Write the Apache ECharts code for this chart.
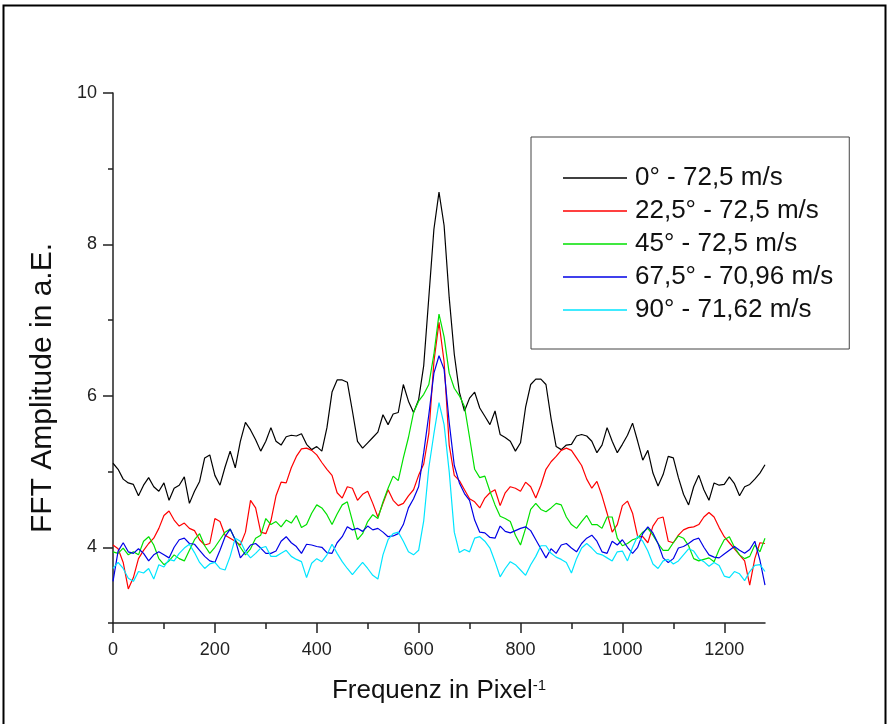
<!DOCTYPE html>
<html>
<head>
<meta charset="utf-8">
<script src="https://cdn.jsdelivr.net/npm/echarts@6/dist/echarts.min.js"></script>
<style>
html,body{margin:0;padding:0;background:#fff;}
#chart{width:889px;height:724px;}
</style>
</head>
<body>
<div id="chart"></div>
<script>
// x positions (Pixel^-1)
const xs = [0,10,20,30,40,50,60,70,80,90,100,110,120,130,140,150,160,170,180,190,
200,210,220,230,240,250,260,270,280,290,300,310,320,330,340,350,360,370,380,390,
400,410,420,430,440,450,460,470,480,490,500,510,520,530,540,550,560,570,580,590,
600,610,620,630,640,650,660,670,680,690,700,710,720,730,740,750,760,770,780,790,
800,810,820,830,840,850,860,870,880,890,900,910,920,930,940,950,960,970,980,990,
1000,1010,1020,1030,1040,1050,1060,1070,1080,1090,1100,1110,1120,1130,1140,1150,1160,1170,1180,1190,
1200,1210,1220,1230,1240,1250,1260,1270,1280];

const seriesNames = ['0° - 72,5 m/s','22,5° - 72,5 m/s','45° - 72,5 m/s','67,5° - 70,96 m/s','90° - 71,62 m/s'];
const seriesColors = ['#000000','#ff0000','#00e000','#0000e6','#00e5ff'];

const s0 = [5.11,5.03,4.90,4.85,4.83,4.68,4.82,4.92,4.80,4.74,
4.85,4.62,4.78,4.82,4.93,4.58,4.74,4.87,5.18,5.22,
4.95,4.82,5.06,5.27,5.05,5.40,5.65,5.55,5.42,5.27,
5.40,5.58,5.40,5.35,5.46,5.48,5.47,5.50,5.36,5.29,
5.33,5.27,5.58,6.05,6.21,6.21,6.18,5.80,5.40,5.31,
5.38,5.45,5.52,5.75,5.62,5.76,5.78,6.15,5.93,5.78,
5.95,6.40,7.30,8.20,8.69,8.25,7.30,6.55,6.05,5.80,
5.97,6.05,5.84,5.73,5.62,5.80,5.49,5.45,5.40,5.27,
5.38,5.85,6.15,6.22,6.22,6.15,5.70,5.33,5.29,5.35,
5.36,5.47,5.49,5.47,5.40,5.25,5.35,5.58,5.40,5.25,
5.36,5.48,5.64,5.40,5.15,5.28,4.98,4.81,4.96,5.20,
5.18,4.92,4.70,4.56,4.80,4.95,4.76,4.62,4.85,4.82,
4.83,4.93,4.84,4.68,4.80,4.83,4.90,4.98,5.09];

const s1 = [4.03,3.98,3.80,3.45,3.60,3.85,3.96,4.05,4.12,4.25,
4.42,4.48,4.36,4.28,4.32,4.25,4.22,4.10,4.03,4.05,
4.38,4.34,4.16,4.12,4.08,4.03,4.20,4.62,4.52,4.20,
4.18,4.35,4.68,4.86,4.85,5.05,5.20,5.30,5.31,5.28,
5.22,5.12,5.03,4.95,4.72,4.65,4.80,4.78,4.62,4.70,
4.74,4.58,4.40,4.58,4.76,4.62,4.55,4.58,4.68,4.76,
4.95,5.10,5.50,6.45,6.97,6.45,5.35,4.95,4.88,4.76,
4.64,4.60,4.52,4.65,4.72,4.76,4.55,4.72,4.80,4.78,
4.74,4.86,4.80,4.65,4.82,5.03,5.13,5.20,5.28,5.31,
5.28,5.18,5.08,4.90,4.78,4.87,4.68,4.45,4.20,4.30,
4.55,4.61,4.45,4.14,4.14,4.06,4.28,4.38,4.40,4.08,
4.06,4.16,4.23,4.26,4.27,4.30,4.40,4.46,4.40,4.26,
4.14,4.06,3.98,3.90,3.82,3.50,3.85,4.06,4.05];

const s2 = [3.94,3.92,3.99,3.90,3.94,3.90,4.08,4.14,4.03,3.85,
3.77,3.82,3.90,3.85,3.82,3.96,4.10,4.18,4.02,3.92,
4.00,4.10,4.20,4.24,4.10,4.00,3.90,3.98,4.12,4.16,
4.38,4.30,4.34,4.27,4.36,4.32,4.42,4.26,4.30,4.45,
4.56,4.52,4.43,4.30,4.44,4.56,4.60,4.35,4.10,4.18,
4.34,4.43,4.38,4.60,4.78,4.94,4.88,5.18,5.45,5.78,
5.93,6.02,6.15,6.55,7.08,6.78,6.30,6.10,6.00,5.86,
5.45,5.03,4.92,4.94,4.74,4.56,4.41,4.38,4.34,4.16,
4.03,4.25,4.50,4.58,4.50,4.47,4.52,4.58,4.56,4.40,
4.30,4.25,4.34,4.42,4.30,4.30,4.25,4.40,4.40,4.12,
4.02,4.05,4.10,4.12,4.20,4.25,4.16,4.05,3.96,3.96,
4.06,4.15,4.12,4.02,3.85,3.82,3.84,3.86,3.81,3.97,
4.10,4.14,4.00,3.90,3.85,3.88,4.03,3.94,4.12];

const s3 = [3.55,3.95,4.06,3.94,3.92,3.98,3.92,3.82,3.90,3.94,
3.90,3.86,4.00,4.10,4.12,4.05,4.04,3.96,3.88,3.82,
3.80,3.96,4.14,4.24,4.10,3.86,3.94,4.03,4.05,3.99,
3.92,3.92,3.95,4.08,4.14,4.06,4.01,3.92,4.04,4.03,
4.01,4.00,3.93,3.92,4.06,4.14,4.27,4.23,4.25,4.21,
4.28,4.23,4.25,4.20,4.14,4.15,4.18,4.30,4.52,4.64,
4.80,5.25,5.75,6.30,6.53,6.35,5.65,5.08,4.85,4.71,
4.62,4.36,4.20,4.19,4.13,4.12,4.28,4.21,4.19,4.22,
4.25,4.27,4.22,4.10,3.98,3.86,3.98,3.92,4.03,4.05,
3.99,3.94,4.05,4.12,4.16,4.08,3.94,3.92,4.08,4.03,
4.10,4.00,3.92,4.00,4.18,4.27,4.19,4.05,3.86,3.80,
3.85,3.99,4.01,4.05,4.10,4.12,4.00,3.90,3.87,3.86,
3.91,3.96,4.01,3.96,3.92,3.97,4.08,3.83,3.50];

const s4 = [3.72,3.80,3.72,3.59,3.55,3.68,3.66,3.72,3.58,3.77,
3.74,3.84,3.82,3.92,3.99,4.04,3.93,3.80,3.72,3.78,
3.80,3.72,3.70,3.88,4.12,4.08,3.94,3.86,3.92,3.99,
4.01,3.88,3.88,3.92,3.96,3.88,3.84,3.81,3.60,3.79,
3.85,3.81,3.90,4.04,3.92,3.81,3.72,3.64,3.72,3.80,
3.72,3.63,3.58,3.90,4.10,4.18,4.20,4.08,3.94,3.90,
3.96,4.35,5.05,5.50,5.91,5.62,5.00,4.20,3.93,3.97,
3.94,4.12,4.14,4.08,3.99,3.81,3.61,3.72,3.81,3.77,
3.70,3.63,3.77,3.88,4.02,4.02,3.92,3.87,3.84,3.80,
3.66,3.85,3.99,4.05,3.99,3.92,3.90,3.86,3.82,3.94,
3.95,3.82,4.00,4.15,4.08,3.95,3.78,3.72,3.82,3.84,
3.78,3.82,3.90,3.98,3.95,3.85,3.81,3.75,3.80,3.76,
3.62,3.60,3.68,3.65,3.56,3.68,3.76,3.77,3.68];

const xMajor = [0,200,400,600,800,1000,1200];
const xMinor = [100,300,500,700,900,1100];
const yMajor = [4,6,8,10];
const yMinor = [3,5,7,9];

const allValues = [s0,s1,s2,s3,s4];
const FONT = 'Arial, "Liberation Sans", sans-serif';
const plain = v => String(v);

const chart = echarts.init(document.getElementById('chart'), null, {renderer:'canvas'});
const option = {
  backgroundColor:'#ffffff',
  animation:false,
  grid:{left:113,top:93,right:124,bottom:101,containLabel:false},
  legend:{
    orient:'vertical',
    left:531, top:137,
    padding:[28,16,26,32],
    itemGap:7,
    icon:'rect',
    itemWidth:64, itemHeight:1.3,
    borderColor:'#444', borderWidth:1,
    textStyle:{fontFamily:FONT,fontSize:26,color:'#111',lineHeight:26,padding:[0,0,0,3]},
    data:seriesNames
  },
  xAxis:[{
    type:'value', min:0, max:1280,
    position:'bottom',
    name:'{a|Frequenz in Pixel}{b|-1}',
    nameLocation:'middle', nameGap:55,
    nameTextStyle:{rich:{a:{fontFamily:FONT,fontSize:26,color:'#111'},b:{fontFamily:FONT,fontSize:15,color:'#111',verticalAlign:'top'}}},
    axisLine:{show:true,lineStyle:{color:'#222',width:1.5}},
    axisTick:{show:true,inside:false,length:10,customValues:xMajor,lineStyle:{color:'#222',width:1.5}},
    axisLabel:{show:true,customValues:xMajor,formatter:plain,margin:18,fontFamily:FONT,fontSize:18,color:'#222'},
    splitLine:{show:false}
  },{
    type:'value', min:0, max:1280, position:'bottom',
    axisLine:{show:false},
    axisTick:{show:true,inside:false,length:6,customValues:xMinor,lineStyle:{color:'#222',width:1.5}},
    axisLabel:{show:false},
    splitLine:{show:false}
  }],
  yAxis:[{
    type:'value', min:3, max:10,
    position:'left',
    name:'FFT Amplitude in a.E.',
    nameLocation:'middle', nameGap:55, nameRotate:90,
    nameTextStyle:{fontFamily:FONT,fontSize:30,color:'#111',padding:[0,60,0,0]},
    axisLine:{show:true,lineStyle:{color:'#222',width:1.5}},
    axisTick:{show:true,inside:false,length:10,customValues:yMajor,lineStyle:{color:'#222',width:1.5}},
    axisLabel:{show:true,customValues:yMajor,formatter:plain,margin:16,fontFamily:FONT,fontSize:18,color:'#222'},
    splitLine:{show:false}
  },{
    type:'value', min:3, max:10, position:'left',
    axisLine:{show:false},
    axisTick:{show:true,inside:false,length:5,customValues:yMinor,lineStyle:{color:'#222',width:1.5}},
    axisLabel:{show:false},
    splitLine:{show:false}
  }],
  graphic:[{
    type:'rect', silent:true, z:-1,
    shape:{x:3.5,y:5.5,width:882,height:740},
    style:{fill:'none',stroke:'#000',lineWidth:2}
  }],
  series: allValues.map((vals,i)=>({
    name:seriesNames[i],
    type:'line',
    xAxisIndex:0, yAxisIndex:0,
    data: xs.map((x,j)=>[x, vals[j]]),
    showSymbol:false, symbol:'none',
    lineStyle:{color:seriesColors[i],width:1.2},
    itemStyle:{color:seriesColors[i]},
    emphasis:{disabled:true}
  }))
};
chart.setOption(option);
</script>
</body>
</html>
